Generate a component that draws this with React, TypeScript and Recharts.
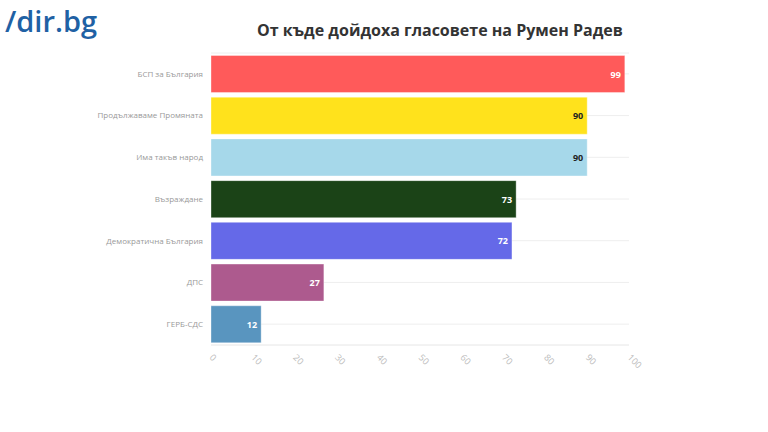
import React from 'react';
import { BarChart, Bar, XAxis, YAxis, CartesianGrid, Cell, LabelList } from 'recharts';

const parties = [
  'БСП за България',
  'Продължаваме Промяната',
  'Има такъв народ',
  'Възраждане',
  'Демократична България',
  'ДПС',
  'ГЕРБ-СДС',
];
const votes = [99, 90, 90, 73, 72, 27, 12];
const xTicks = [0, 10, 20, 30, 40, 50, 60, 70, 80, 90, 100];

const barColors = ['#ff5a5a', '#ffe21c', '#a6d8ea', '#1b4317', '#6569e8', '#ad5a8e', '#5995bf'];
const labelColors = ['#fff', '#222', '#222', '#fff', '#fff', '#fff', '#fff'];

const data = parties.map((party, i) => ({ party, value: votes[i] }));

const font = '"Open Sans", "Noto Sans", sans-serif';

function XTick(props: any) {
  const { x, y, payload } = props;
  return (
    <text
      x={0}
      y={0}
      transform={`translate(${x - 2}, ${y + 5}) rotate(45)`}
      textAnchor="start"
      fontSize={9}
      fill="#bbb"
      fontFamily={font}
    >
      {payload.value}
    </text>
  );
}

function ValueLabel(props: any) {
  const { x, y, width, height, value, index } = props;
  return (
    <text
      x={x + width - 4}
      y={y + height / 2}
      dy={3.5}
      textAnchor="end"
      fontSize={9}
      fontWeight={700}
      fill={labelColors[index]}
      fontFamily={font}
    >
      {value}
    </text>
  );
}

export default function App() {
  return (
    <div style={{ position: 'absolute', left: 0, top: 0, width: 768, height: 432, background: '#fff' }}>
      <div
        style={{
          position: 'absolute',
          left: 5,
          top: 1,
          fontFamily: font,
          fontSize: 29,
          fontWeight: 600,
          color: '#1f61a4',
        }}
      >
        /dir.bg
      </div>
      <div
        style={{
          position: 'absolute',
          left: 240,
          width: 400,
          top: 19,
          textAlign: 'center',
          fontFamily: font,
          fontSize: 16,
          fontWeight: 700,
          color: '#333',
        }}
      >
        От къде дойдоха гласовете на Румен Радев
      </div>
      <BarChart
        width={768}
        height={432}
        data={data}
        layout="vertical"
        margin={{ top: 53, right: 139, bottom: 57, left: 5 }}
        barCategoryGap="6%"
      >
        <CartesianGrid horizontal vertical={false} stroke="#eeeeee" />
        <XAxis
          type="number"
          domain={[0, 100]}
          ticks={xTicks}
          interval={0}
          height={30}
          tick={<XTick />}
          tickLine={false}
          axisLine={{ stroke: '#eeeeee' }}
        />
        <YAxis
          type="category"
          dataKey="party"
          width={206}
          tickLine={false}
          axisLine={false}
          tick={{ fontSize: 8, fill: '#999', fontFamily: font }}
          tickMargin={2}
        />
        <Bar dataKey="value" isAnimationActive={false}>
          {data.map((d, i) => (
            <Cell key={d.party} fill={barColors[i]} stroke="rgba(255,255,255,0.35)" />
          ))}
          <LabelList dataKey="value" content={<ValueLabel />} />
        </Bar>
      </BarChart>
    </div>
  );
}
